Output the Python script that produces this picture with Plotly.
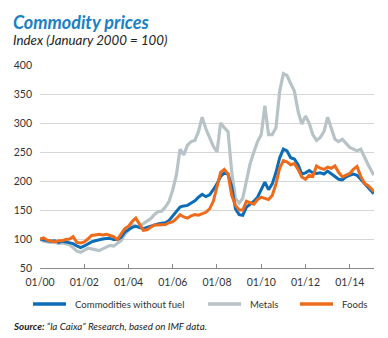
import plotly.graph_objects as go

dates = [f"{y}-{m:02d}-01" for y in range(2000, 2015) for m in (1, 3, 5, 7, 9, 11)] + ["2015-02-01"]

metals = [
    100, 96, 95, 94, 95, 92,
    93, 91, 90, 85, 79, 77,
    80, 84, 83, 81, 80, 83,
    86, 89, 88, 92, 97, 108,
    115, 125, 122, 122, 126, 130,
    135, 142, 147, 148, 155, 165,
    185, 210, 255, 245, 262, 268,
    270, 285, 310, 290, 275, 260,
    250, 300, 292, 285, 215, 170,
    162, 170, 200, 230, 250, 268,
    280, 330, 280, 280, 292, 355,
    385, 382, 368, 355, 320, 298,
    312, 300, 280, 270, 275, 285,
    310, 290, 272, 268, 272, 265,
    258, 255, 252, 255, 240, 228,
    210,
]

no_fuel = [
    100, 98, 97, 96, 97, 94,
    96, 95, 93, 92, 88, 85,
    88, 92, 95, 97, 99, 100,
    101, 101, 99, 99, 103, 112,
    116, 120, 122, 120, 118, 120,
    122, 125, 126, 127, 128, 132,
    140, 148, 155, 157, 158, 162,
    166, 172, 177, 173, 176, 185,
    195, 208, 214, 212, 190, 152,
    142, 141, 155, 160, 165, 172,
    184, 198, 185, 195, 215, 240,
    255, 252, 240, 238, 228, 212,
    214, 218, 214, 213, 214, 212,
    217, 212, 207, 203, 202, 207,
    210, 212, 210, 203, 195, 188,
    178,
]

foods = [
    100, 102, 98, 96, 95, 97,
    97, 99, 100, 104, 94, 93,
    95, 100, 106, 107, 108, 107,
    108, 106, 104, 99, 108, 118,
    122, 130, 136, 126, 115, 116,
    120, 124, 124, 124, 125, 128,
    130, 135, 142, 138, 136, 140,
    142, 141, 144, 146, 152, 165,
    190, 215, 220, 212, 175, 158,
    150, 150, 165, 163, 160, 168,
    172, 170, 168, 175, 195, 222,
    235, 233, 228, 230, 220, 207,
    203, 210, 208, 226, 222, 220,
    224, 222, 226, 215, 207, 210,
    213, 220, 225, 208, 196, 192,
    182,
]

tick_vals = ["2000-01-01", "2002-01-01", "2004-01-01", "2006-01-01",
             "2008-01-01", "2010-01-01", "2012-01-01", "2014-01-01"]
tick_text = ["01/00", "01/02", "01/04", "01/06", "01/08", "01/10", "01/12", "01/14"]
y_ticks = [50, 100, 150, 200, 250, 300, 350, 400]

series_names = ["Commodities without fuel", "Metals", "Foods"]
BLUE = "#0b6db7"
GREY = "#b8c3c7"
ORANGE = "#ee6b1c"
FONT = "Lato"

W, H = 388, 338
L, R, T, B = 40, 14, 65, 70
PW, PH = W - L - R, H - T - B


def px(x):
    return (x - L) / PW


def py(y):
    return (H - B - y) / PH


fig = go.Figure()
fig.add_trace(go.Scatter(x=dates, y=metals, name=series_names[1], mode="lines",
                         line=dict(color=GREY, width=3.2), showlegend=False))
fig.add_trace(go.Scatter(x=dates, y=no_fuel, name=series_names[0], mode="lines",
                         line=dict(color=BLUE, width=3), showlegend=False))
fig.add_trace(go.Scatter(x=dates, y=foods, name=series_names[2], mode="lines",
                         line=dict(color=ORANGE, width=3), showlegend=False))

# manual legend
legend_items = [(series_names[0], BLUE, 33), (series_names[1], GREY, 208), (series_names[2], ORANGE, 300)]
shapes = []
annotations = []
for name, col, x0 in legend_items:
    shapes.append(dict(type="line", xref="paper", yref="paper",
                       x0=px(x0), x1=px(x0 + 33), y0=py(304), y1=py(304),
                       line=dict(color=col, width=3.5)))
    annotations.append(dict(text=name, xref="paper", yref="paper", x=px(x0 + 40), y=py(304),
                            xanchor="left", yanchor="middle", showarrow=False,
                            font=dict(family=FONT, size=9.6, color="#333333")))

annotations.append(dict(text="<b><i>Commodity prices</i></b>", xref="paper", yref="paper",
                        x=px(11), y=py(22), xanchor="left", yanchor="middle", showarrow=False,
                        font=dict(family=FONT, size=18, color="#1a80c4")))
annotations.append(dict(text="<i>Index (January 2000 = 100)</i>", xref="paper", yref="paper",
                        x=px(11), y=py(40), xanchor="left", yanchor="middle", showarrow=False,
                        font=dict(family=FONT, size=13.3, color="#222222")))
annotations.append(dict(text="<b><i>Source:</i></b><i> “la Caixa” Research, based on IMF data.</i>",
                        xref="paper", yref="paper",
                        x=px(11), y=py(326), xanchor="left", yanchor="middle", showarrow=False,
                        font=dict(family=FONT, size=9.8, color="#222222")))

fig.update_layout(
    width=W, height=H, autosize=False,
    margin=dict(l=L, r=R, t=T, b=B),
    paper_bgcolor="white", plot_bgcolor="white",
    font=dict(family=FONT, size=10, color="#333333"),
    shapes=shapes, annotations=annotations,
    showlegend=False,
)
fig.update_xaxes(
    type="date", range=["2000-01-01", "2015-02-05"],
    tickvals=tick_vals, ticktext=tick_text,
    showgrid=False, zeroline=False,
    showline=True, linecolor="#8a8a8a", linewidth=1,
    ticks="inside", ticklen=4, tickcolor="#8a8a8a",
    ticklabelstandoff=4,
    tickfont=dict(family=FONT, size=10.5, color="#333333"),
)
fig.update_yaxes(
    range=[50, 400], tickvals=y_ticks,
    showgrid=True, gridcolor="#d6d6d6", gridwidth=1,
    zeroline=False, showline=False, ticks="",
    ticklabelstandoff=7,
    tickfont=dict(family=FONT, size=10.5, color="#333333"),
)

fig.write_html("out.html")
